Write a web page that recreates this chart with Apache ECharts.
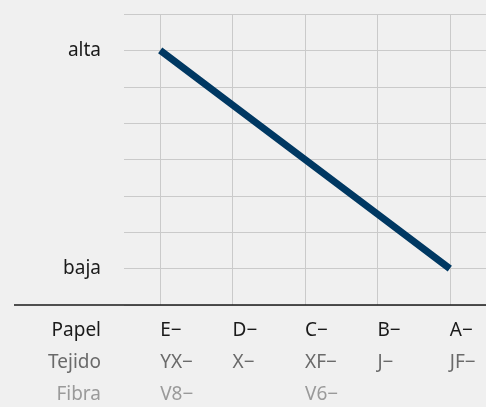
<!DOCTYPE html>
<html>
<head>
<meta charset="utf-8">
<script src="https://cdn.jsdelivr.net/npm/echarts@6/dist/echarts.min.js"></script>
<style>
  html, body { margin: 0; padding: 0; background: #f0f0f0; }
  #chart { width: 486px; height: 407px; }
</style>
</head>
<body>
<div id="chart"></div>
<script>
// Grades along the x axis: paper, fabric and fibre codes
const papel = ['E−', 'D−', 'C−', 'B−', 'A−'];
const tejido = ['YX−', 'X−', 'XF−', 'J−', 'JF−'];
const fibra = ['V8−', '', 'V6−', '', ''];
const rowTitles = ['Papel', 'Tejido', 'Fibra'];

// Level on a 0–8 scale (1 = baja, 7 = alta)
const nivel = [7, 5.5, 4, 2.5, 1];
const yLabels = { 1: 'baja', 7: 'alta' };

const FONT = 'Noto Sans';
const FS = 19;
const rowColors = ['#1a1a1a', '#6a6a6a', '#9a9a9a'];
const chart = echarts.init(document.getElementById('chart'));

const gridTop = 14, gridBottom = 102, gridLeft = 124;
const axisY = 407 - gridBottom;
const labelMargin = 10, rowH = 32;

chart.setOption({
  backgroundColor: '#f0f0f0',
  animation: false,
  grid: { left: gridLeft, right: 0, top: gridTop, bottom: gridBottom },
  xAxis: {
    type: 'category',
    data: papel,
    boundaryGap: true,
    axisLine: { show: false },
    axisTick: { show: false, alignWithLabel: true },
    splitLine: { show: true, alignWithLabel: true, lineStyle: { color: '#cacaca', width: 1 } },
    axisLabel: {
      margin: labelMargin,
      align: 'left',
      verticalAlign: 'top',
      formatter: function (v, i) {
        return '{a|' + papel[i] + '}\n{b|' + tejido[i] + '}\n{c|' + (fibra[i] || ' ') + '}';
      },
      rich: {
        a: { fontFamily: FONT, fontSize: FS, color: rowColors[0], lineHeight: rowH, align: 'left' },
        b: { fontFamily: FONT, fontSize: FS, color: rowColors[1], lineHeight: rowH, align: 'left' },
        c: { fontFamily: FONT, fontSize: FS, color: rowColors[2], lineHeight: rowH, align: 'left' }
      }
    }
  },
  yAxis: {
    type: 'value',
    min: 0,
    max: 8,
    interval: 1,
    axisLine: { show: false },
    axisTick: { show: false },
    splitLine: { show: true, lineStyle: { color: '#cacaca', width: 1 } },
    axisLabel: {
      margin: 23,
      fontFamily: FONT,
      fontSize: FS,
      color: '#1a1a1a',
      formatter: function (v) { return yLabels[v] || ''; }
    }
  },
  series: [{
    type: 'line',
    data: nivel,
    showSymbol: false,
    symbol: 'none',
    lineStyle: { color: '#003862', width: 7, cap: 'butt' }
  }],
  graphic: [
    {
      type: 'line',
      shape: { x1: 14, y1: axisY, x2: 486, y2: axisY },
      style: { stroke: '#1a1a1a', lineWidth: 1.5 },
      z: 10
    }
  ].concat(rowTitles.map(function (t, i) {
    return {
      type: 'text',
      x: 101,
      y: axisY + labelMargin + i * rowH + rowH / 2,
      style: {
        text: t,
        align: 'right',
        verticalAlign: 'middle',
        fontFamily: FONT,
        fontSize: FS,
        fill: rowColors[i]
      }
    };
  }))
});
</script>
</body>
</html>
